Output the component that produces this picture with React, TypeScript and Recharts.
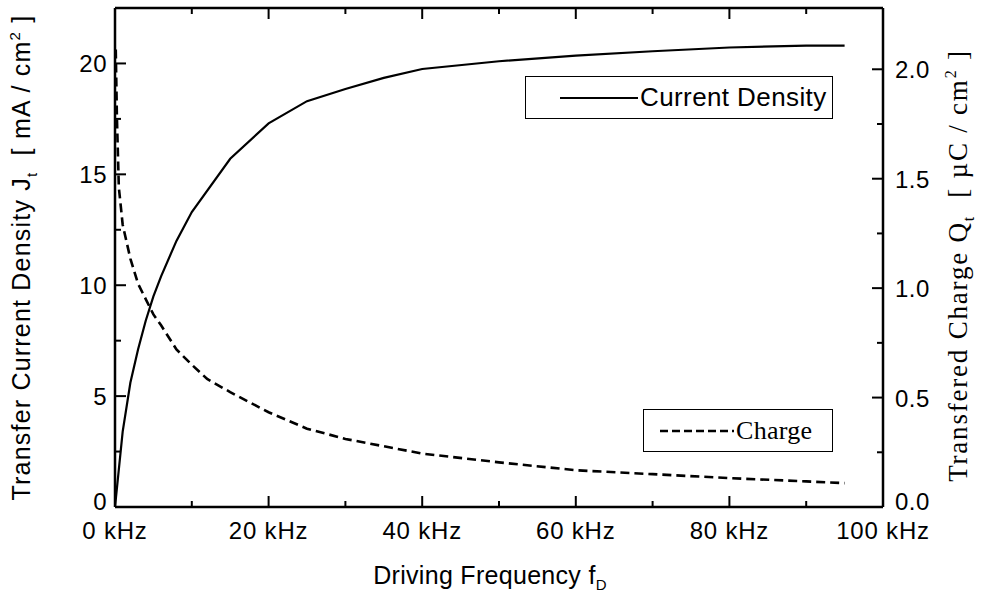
import { LineChart, Line, XAxis, YAxis, Legend } from "recharts"

// driving frequency (kHz) and transfer current density (mA/cm2)
const freqJ = [0, 1, 2, 3, 4, 5, 6, 8, 10, 15, 20, 25, 30, 35, 40, 50, 60, 70, 80, 90, 95]
const currentDensity = [0, 3.4, 5.6, 7.1, 8.4, 9.5, 10.4, 12.0, 13.3, 15.7, 17.3, 18.3, 18.85, 19.35, 19.75, 20.1, 20.35, 20.55, 20.72, 20.8, 20.8]

// driving frequency (kHz) and transfered charge (uC/cm2)
const freqQ = [0.1, 0.25, 0.5, 1, 2, 3, 4, 5, 6, 8, 10, 12, 15, 20, 25, 30, 40, 50, 60, 70, 80, 90, 95]
const charge = [2.09, 1.78, 1.46, 1.29, 1.135, 1.02, 0.95, 0.88, 0.83, 0.72, 0.65, 0.585, 0.525, 0.433, 0.358, 0.311, 0.244, 0.204, 0.168, 0.15, 0.132, 0.117, 0.109]

const xTicks = [0, 10, 20, 30, 40, 50, 60, 70, 80, 90, 100]
const jTicks = [0, 2.5, 5, 7.5, 10, 12.5, 15, 17.5, 20]
const qTicks = [0, 0.25, 0.5, 0.75, 1, 1.25, 1.5, 1.75, 2]

const jData = freqJ.map((f, i) => ({ f, j: currentDensity[i] }))
const qData = freqQ.map((f, i) => ({ f, q: charge[i] }))

const SANS = "'Liberation Sans', Arial, sans-serif"
const SERIF = "'Liberation Serif', 'Times New Roman', serif"

const BottomTick = ({ x, y, payload }: any) => {
  const major = payload.value % 20 === 0
  return (
    <g>
      <line x1={x} y1={y} x2={x} y2={y - (major ? 11 : 6)} stroke="#000" strokeWidth={2} />
      {major && (
        <text x={x} y={y + 32} textAnchor="middle" fontFamily={SANS} fontSize={24} letterSpacing={0.8} fill="#000">
          {`${payload.value} kHz`}
        </text>
      )}
    </g>
  )
}

const TopTick = ({ x, y, payload }: any) => {
  const major = payload.value % 20 === 0
  return <line x1={x} y1={y} x2={x} y2={y + (major ? 11 : 6)} stroke="#000" strokeWidth={2} />
}

const LeftTick = ({ x, y, payload }: any) => {
  const major = payload.value % 5 === 0
  return (
    <g>
      <line x1={x} y1={y} x2={x + (major ? 11 : 6)} y2={y} stroke="#000" strokeWidth={2} />
      {major && (
        <text x={x - 8} y={y + (payload.value === 0 ? 3 : 9)} textAnchor="end" fontFamily={SANS} fontSize={24} letterSpacing={0.5} fill="#000">
          {payload.value}
        </text>
      )}
    </g>
  )
}

const RightTick = ({ x, y, payload }: any) => {
  const major = Math.abs((payload.value * 2) % 1) < 1e-6
  return (
    <g>
      <line x1={x} y1={y} x2={x - (major ? 11 : 6)} y2={y} stroke="#000" strokeWidth={2} />
      {major && (
        <text x={x + 12} y={y + (payload.value === 0 ? 3 : 9)} textAnchor="start" fontFamily={SANS} fontSize={24} letterSpacing={0.5} fill="#000">
          {payload.value.toFixed(1)}
        </text>
      )}
    </g>
  )
}

const LegendBoxes = () => (
  <div style={{ position: "relative", width: 990, height: 600 }}>
    <div style={{ position: "absolute", left: 525, top: 76, width: 308, height: 43, border: "1.5px solid #000", boxSizing: "border-box", display: "flex", alignItems: "center" }}>
      <svg width={80} height={10} style={{ marginLeft: 34 }}>
        <line x1={0} y1={5} x2={78} y2={5} stroke="#000" strokeWidth={2} />
      </svg>
      <span style={{ fontFamily: SANS, fontSize: 26, letterSpacing: 0.4, color: "#000", whiteSpace: "nowrap" }}>Current Density</span>
    </div>
    <div style={{ position: "absolute", left: 643, top: 409, width: 190, height: 43, border: "1.5px solid #000", boxSizing: "border-box", display: "flex", alignItems: "center" }}>
      <svg width={76} height={10} style={{ marginLeft: 16 }}>
        <line x1={0} y1={5} x2={74} y2={5} stroke="#000" strokeWidth={2.5} strokeDasharray="8 4" />
      </svg>
      <span style={{ fontFamily: SERIF, fontSize: 26, letterSpacing: 0.3, color: "#000", whiteSpace: "nowrap" }}>Charge</span>
    </div>
  </div>
)

export default function App() {
  return (
    <div style={{ position: "absolute", left: 0, top: 0, width: 990, height: 600, background: "#fff" }}>
      <LineChart width={990} height={600} margin={{ top: 7, right: 106, bottom: 92, left: 114 }}>
        <XAxis
          xAxisId="b"
          type="number"
          dataKey="f"
          domain={[0, 100]}
          ticks={xTicks}
          interval={0}
          height={1}
          tickSize={0}
          tickMargin={0}
          tickLine={false}
          axisLine={{ stroke: "#000", strokeWidth: 2.5 }}
          tick={<BottomTick />}
          allowDataOverflow
          label={{
            content: (props: any) => {
              const vb = props.viewBox
              return (
                <text x={vb.x + vb.width / 2 - 9} y={vb.y + 77} textAnchor="middle" fontFamily={SANS} fontSize={25} letterSpacing={0.3} fill="#000">
                  Driving Frequency f<tspan fontSize={15} dy={6}>D</tspan>
                </text>
              )
            },
          }}
        />
        <XAxis
          xAxisId="t"
          orientation="top"
          type="number"
          dataKey="f"
          domain={[0, 100]}
          ticks={xTicks}
          interval={0}
          height={1}
          tickSize={0}
          tickMargin={0}
          tickLine={false}
          axisLine={{ stroke: "#000", strokeWidth: 2.5 }}
          tick={<TopTick />}
          allowDataOverflow
        />
        <YAxis
          yAxisId="j"
          type="number"
          domain={[0, 22.5]}
          ticks={jTicks}
          interval={0}
          width={1}
          tickSize={0}
          tickMargin={0}
          tickLine={false}
          axisLine={{ stroke: "#000", strokeWidth: 2.5 }}
          tick={<LeftTick />}
          allowDataOverflow
          label={{
            content: (props: any) => {
              const vb = props.viewBox
              const cx = vb.x - 84
              const cy = vb.y + vb.height / 2
              return (
                <text x={cx} y={cy} transform={`rotate(-90 ${cx} ${cy})`} textAnchor="middle" fontFamily={SANS} fontSize={25} letterSpacing={1.2} fill="#000" style={{ whiteSpace: "pre" }}>
                  Transfer Current Density J<tspan fontSize={15} dy={7}>t</tspan>
                  <tspan dy={-7}>{"  [ mA / cm"}</tspan>
                  <tspan fontSize={15} dy={-10}>2</tspan>
                  <tspan dy={10}>{" ]"}</tspan>
                </text>
              )
            },
          }}
        />
        <YAxis
          yAxisId="q"
          orientation="right"
          type="number"
          domain={[0, 2.28]}
          ticks={qTicks}
          interval={0}
          width={1}
          tickSize={0}
          tickMargin={0}
          tickLine={false}
          axisLine={{ stroke: "#000", strokeWidth: 2.5 }}
          tick={<RightTick />}
          allowDataOverflow
          label={{
            content: (props: any) => {
              const vb = props.viewBox
              const cx = vb.x + 84
              const cy = vb.y + vb.height / 2 + 8
              return (
                <text x={cx} y={cy} transform={`rotate(-90 ${cx} ${cy})`} textAnchor="middle" fontFamily={SERIF} fontSize={27} letterSpacing={1.8} fill="#000" style={{ whiteSpace: "pre" }}>
                  Transfered Charge Q<tspan fontSize={16} dy={7}>t</tspan>
                  <tspan dy={-7}>{"  [ µC / cm"}</tspan>
                  <tspan fontSize={16} dy={-11}>2</tspan>
                  <tspan dy={11}>{" ]"}</tspan>
                </text>
              )
            },
          }}
        />
        <Legend layout="vertical" align="center" verticalAlign="middle" wrapperStyle={{ left: 0, top: 0, width: 990, height: 600, margin: 0 }} content={<LegendBoxes />} />
        <Line
          xAxisId="b"
          yAxisId="j"
          data={jData}
          dataKey="j"
          name="Current Density"
          type="linear"
          stroke="#000"
          strokeWidth={2.2}
          dot={false}
          isAnimationActive={false}
        />
        <Line
          xAxisId="b"
          yAxisId="q"
          data={qData}
          dataKey="q"
          name="Charge"
          type="linear"
          stroke="#000"
          strokeWidth={2.6}
          strokeDasharray="9 5"
          dot={false}
          isAnimationActive={false}
        />
      </LineChart>
    </div>
  )
}
